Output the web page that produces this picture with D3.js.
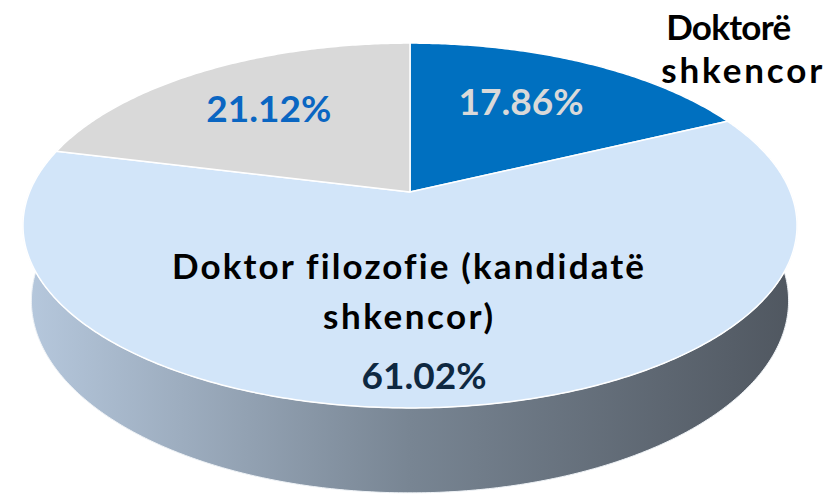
<!DOCTYPE html>
<html>
<head>
<meta charset="utf-8">
<script src="https://cdn.jsdelivr.net/npm/d3@7"></script>
<style>
body { margin: 0; background: #fff; }
svg { display: block; }
text { font-family: Lato, "Open Sans", sans-serif; font-weight: bold; font-variant-ligatures: none; }
</style>
</head>
<body>
<script>
var categories = ['Doktorë shkencor', 'Doktor filozofie (kandidatë shkencor)', ''];
var values = [17.86, 61.02, 21.12];
var nameLines = [['Doktorë', 'shkencor'], ['Doktor filozofie (kandidatë', 'shkencor)'], []];
var sliceColors = ['#0070c0', '#d2e5f9', '#d9d9d9'];
var percentColors = ['#d9d9d9', '#0e2841', '#0a66c2'];

var width = 835,
	height = 495;

// simple perspective camera looking down on a unit disc
var cx = 410, cy = 192;
var focal = 1836, dist = 4.826, tilt = 27.6 * Math.PI / 180, thick = 0.225;

function project(angle, r, z) {
	var x = r * Math.sin(angle), y = r * Math.cos(angle);
	var depth = dist + y * Math.cos(tilt) - z * Math.sin(tilt);
	var up = y * Math.sin(tilt) + z * Math.cos(tilt);
	return [cx + focal * x / depth, cy - focal * up / depth];
}

function arcPoints(a0, a1, r, z) {
	var n = Math.max(2, Math.ceil(Math.abs(a1 - a0) / 0.01));
	return d3.range(n + 1).map(i => project(a0 + (a1 - a0) * i / n, r, z));
}

var line = d3.line().curve(d3.curveLinear);

var svg = d3.select('body')
		.append('svg')
		.attr('width', width)
		.attr('height', height);

var grad = svg.append('defs').append('linearGradient')
	.attr('id', 'wall')
	.attr('gradientUnits', 'userSpaceOnUse')
	.attr('x1', 20).attr('x2', 800).attr('y1', 0).attr('y2', 0);
grad.append('stop').attr('offset', '0%').attr('stop-color', '#b7c9de');
grad.append('stop').attr('offset', '50%').attr('stop-color', '#788593');
grad.append('stop').attr('offset', '100%').attr('stop-color', '#4f565f');

var pie = d3.pie().sort(null).value(d => d);
var arcs = pie(values);

// side wall of the front (only the big slice shows there)
var wallTop = arcPoints(Math.PI / 3, Math.PI * 5 / 3, 1, 0);
var wallBottom = arcPoints(Math.PI * 5 / 3, Math.PI / 3, 1, -thick);
svg.append('path')
	.attr('d', line(wallTop.concat(wallBottom)) + 'Z')
	.attr('fill', 'url(#wall)')
	.attr('stroke', '#eef2f6')
	.attr('stroke-width', 1);

// top faces
svg.selectAll('.slice')
	.data(arcs)
	.enter()
	.append('path')
	.attr('class', 'slice')
	.attr('d', d => line([project(0, 0, 0)].concat(arcPoints(d.startAngle, d.endAngle, 1, 0))) + 'Z')
	.attr('fill', (d, i) => sliceColors[i])
	.attr('stroke', '#fff')
	.attr('stroke-width', 1.5)
	.attr('stroke-linejoin', 'round');

var fmt = v => v.toFixed(2) + '%';
var mid = d => (d.startAngle + d.endAngle) / 2;

// fit a label line to the width it has in the original
function fit(sel, w) {
	sel.attr('textLength', w).attr('lengthAdjust', 'spacing');
}

// slice 1: outside name, inside percent
var p1 = project(mid(arcs[0]), 0.6, 0);
svg.append('text')
	.attr('x', p1[0]).attr('y', p1[1] + 5)
	.attr('text-anchor', 'middle')
	.attr('font-size', 37)
	.attr('fill', percentColors[0])
	.text(fmt(values[0]));

var e1 = project(mid(arcs[0]), 1, 0);
svg.append('g').selectAll('text')
	.data(nameLines[0])
	.enter()
	.append('text')
	.attr('x', (d, i) => e1[0] + [81, 76][i])
	.attr('y', (d, i) => e1[1] - 23 + i * 43.5)
	.attr('font-size', 35)
	.attr('fill', '#000')
	.text(d => d)
	.each(function(d, i) { fit(d3.select(this), [125, 161][i]); });

// slice 3: percent only
var p3 = project(mid(arcs[2]), 0.66, 0);
svg.append('text')
	.attr('x', p3[0]).attr('y', p3[1] + 14)
	.attr('text-anchor', 'middle')
	.attr('font-size', 37)
	.attr('fill', percentColors[2])
	.text(fmt(values[2]));

// slice 2: name + percent in the front
var p2 = project(Math.PI, 0.45, 0);
var block = nameLines[1].concat([fmt(values[1])]);
svg.append('g').selectAll('text')
	.data(block)
	.enter()
	.append('text')
	.attr('x', (d, i) => p2[0] + [-2, -2, 14][i])
	.attr('y', (d, i) => p2[1] + [0.5, 50.5, 110.5][i])
	.attr('text-anchor', 'middle')
	.attr('font-size', (d, i) => i == 2 ? 37 : 35)
	.attr('fill', (d, i) => i == 2 ? percentColors[1] : '#000')
	.text(d => d)
	.each(function(d, i) { if (i < 2) fit(d3.select(this), [472, 170][i]); });
</script>
</body>
</html>
